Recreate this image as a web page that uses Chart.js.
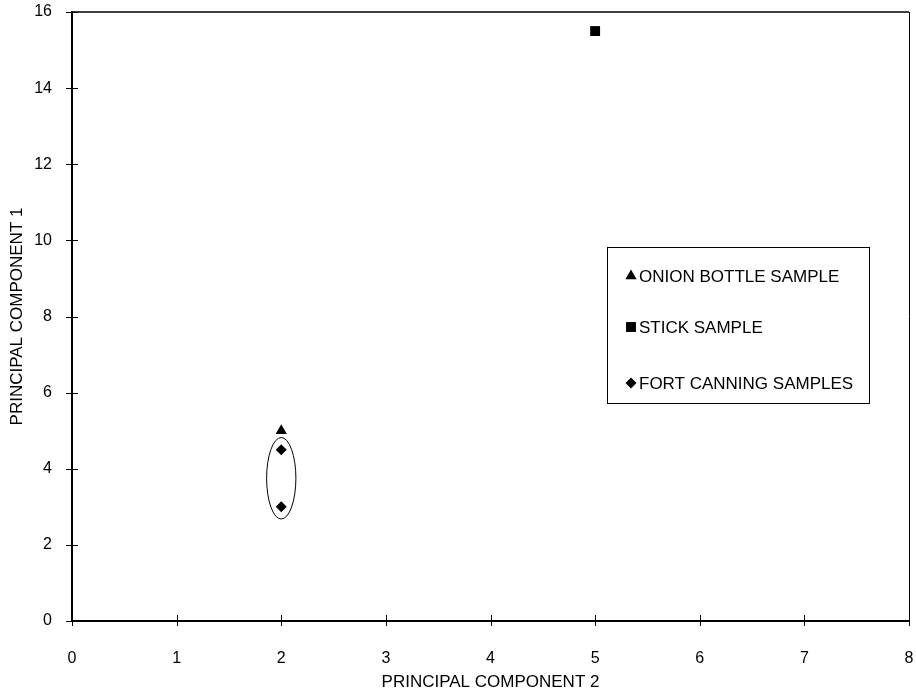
<!DOCTYPE html>
<html>
<head>
<meta charset="utf-8">
<script src="https://cdn.jsdelivr.net/npm/chart.js@4/dist/chart.umd.min.js"></script>
<style>
  body { margin: 0; background: #fff; }
  canvas { display: block; }
</style>
</head>
<body>
<canvas id="chart-pca" width="916" height="691"></canvas>
<script>
const FONT = 'Liberation Sans, Arial, Helvetica, sans-serif';

// samples plotted as (PC2, PC1)
const seriesNames = ['ONION BOTTLE SAMPLE', 'STICK SAMPLE', 'FORT CANNING SAMPLES'];
const onionX = [2];
const onionY = [5];
const stickX = [5];
const stickY = [15.5];
const fortX = [2, 2];
const fortY = [4.5, 3];

// axis ranges and tick steps
const xTicks = [0, 1, 2, 3, 4, 5, 6, 7, 8];
const yTicks = [0, 2, 4, 6, 8, 10, 12, 14, 16];

// ring drawn round the Fort Canning group: centre and radii in axis units
const groupCenter = [2, 3.75];
const groupRadius = [0.14, 1.07];

const toPoints = (xs, ys) => xs.map((x, i) => ({ x: x, y: ys[i] }));

const pcaExtras = {
  id: 'pcaExtras',
  afterDraw(chart) {
    const ctx = chart.ctx;
    const area = chart.chartArea;
    const xs = chart.scales.x;
    const ys = chart.scales.y;
    ctx.save();
    ctx.strokeStyle = '#000';

    // top and right frame
    ctx.lineWidth = 1.5;
    ctx.beginPath();
    ctx.moveTo(area.left, area.top);
    ctx.lineTo(area.right, area.top);
    ctx.stroke();
    ctx.lineWidth = 1;
    ctx.beginPath();
    ctx.moveTo(area.right + 0.5, area.top);
    ctx.lineTo(area.right + 0.5, area.bottom);
    ctx.stroke();

    // tick marks crossing the axes
    ctx.lineWidth = 1;
    xs.ticks.forEach(t => {
      const px = Math.round(xs.getPixelForValue(t.value)) + 0.5;
      ctx.beginPath();
      ctx.moveTo(px, area.bottom - 6);
      ctx.lineTo(px, area.bottom + 5);
      ctx.stroke();
    });
    ys.ticks.forEach(t => {
      const py = Math.round(ys.getPixelForValue(t.value)) + 0.5;
      ctx.beginPath();
      ctx.moveTo(area.left - 6, py);
      ctx.lineTo(area.left + 6, py);
      ctx.stroke();
    });

    // ellipse round the Fort Canning samples
    const cx = xs.getPixelForValue(groupCenter[0]);
    const cy = ys.getPixelForValue(groupCenter[1]);
    const rx = Math.abs(xs.getPixelForValue(groupCenter[0] + groupRadius[0]) - cx);
    const ry = Math.abs(ys.getPixelForValue(groupCenter[1] + groupRadius[1]) - cy);
    ctx.lineWidth = 1;
    ctx.beginPath();
    ctx.ellipse(cx, cy, rx, ry, 0, 0, Math.PI * 2);
    ctx.stroke();

    // boxed legend inside the plot
    const bx = area.right - 302;
    const by = area.top + 235;
    ctx.fillStyle = '#fff';
    ctx.fillRect(bx, by, 262, 156);
    ctx.strokeRect(bx + 0.5, by + 0.5, 262, 156);
    const rows = [29, 80, 136];
    ctx.font = '17px ' + FONT;
    ctx.textAlign = 'left';
    ctx.textBaseline = 'middle';
    chart.data.datasets.forEach((ds, i) => {
      const y = by + rows[i];
      ctx.fillStyle = '#000';
      Chart.helpers.drawPoint(ctx, {
        pointStyle: ds.pointStyle,
        radius: ds.pointRadius,
        rotation: 0,
        borderWidth: 0
      }, bx + 24, y);
      ctx.fillStyle = '#000';
      ctx.fillText(ds.label, bx + 32, y + 1);
    });
    ctx.restore();
  }
};

new Chart(document.getElementById('chart-pca'), {
  type: 'scatter',
  data: {
    datasets: [
      {
        label: seriesNames[0],
        data: toPoints(onionX, onionY),
        pointStyle: 'triangle',
        pointRadius: 6.5,
        backgroundColor: '#000',
        borderColor: '#000',
        borderWidth: 0
      },
      {
        label: seriesNames[1],
        data: toPoints(stickX, stickY),
        pointStyle: 'rect',
        pointRadius: 7,
        backgroundColor: '#000',
        borderColor: '#000',
        borderWidth: 0
      },
      {
        label: seriesNames[2],
        data: toPoints(fortX, fortY),
        pointStyle: 'rectRot',
        pointRadius: 5.5,
        backgroundColor: '#000',
        borderColor: '#000',
        borderWidth: 0
      }
    ]
  },
  options: {
    responsive: false,
    animation: false,
    events: [],
    layout: { padding: { top: 12, right: 7, left: 0, bottom: 0 } },
    plugins: {
      legend: { display: false },
      tooltip: { enabled: false }
    },
    scales: {
      x: {
        type: 'linear',
        min: xTicks[0],
        max: xTicks[xTicks.length - 1],
        afterBuildTicks: s => { s.ticks = xTicks.map(v => ({ value: v })); },
        afterFit: s => { s.height = 70; s.paddingLeft = 0; s.paddingRight = 0; },
        grid: { display: false },
        border: { display: true, color: '#000', width: 2 },
        ticks: { color: '#000', padding: 20, maxRotation: 0, font: { family: FONT, size: 16 } },
        title: {
          display: true,
          text: 'PRINCIPAL COMPONENT 2',
          color: '#000',
          padding: { top: 0, bottom: 0 },
          font: { family: FONT, size: 17, lineHeight: 1 }
        }
      },
      y: {
        type: 'linear',
        min: yTicks[0],
        max: yTicks[yTicks.length - 1],
        afterBuildTicks: s => { s.ticks = yTicks.map(v => ({ value: v })); },
        afterFit: s => { s.width = 72; s.paddingTop = 0; s.paddingBottom = 0; },
        grid: { display: false },
        border: { display: true, color: '#000', width: 2 },
        ticks: { color: '#000', padding: 12, font: { family: FONT, size: 16 } },
        title: {
          display: true,
          text: 'PRINCIPAL COMPONENT 1',
          color: '#000',
          padding: { top: 9, bottom: 0 },
          font: { family: FONT, size: 17, lineHeight: 1 }
        }
      }
    }
  },
  plugins: [pcaExtras]
});
</script>
</body>
</html>
